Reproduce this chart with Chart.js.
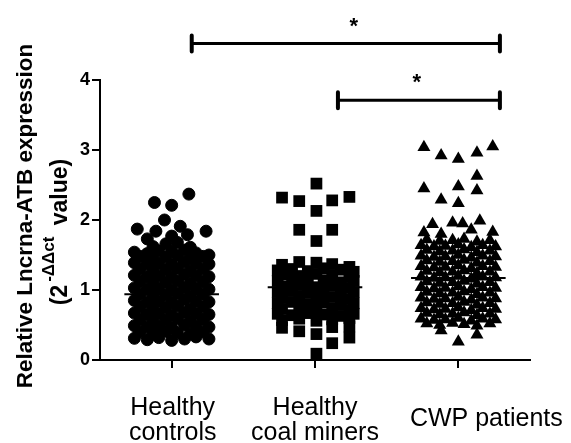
<!DOCTYPE html>
<html>
<head>
<meta charset="utf-8">
<script src="https://cdn.jsdelivr.net/npm/chart.js@4"></script>
<style>
  body { margin: 0; background: #fff; }
</style>
</head>
<body>
<canvas id="grafico" width="571" height="443"></canvas>
<script>
const grupos = [["Healthy", "controls"], ["Healthy", "coal miners"], ["CWP patients"]];
const medias = [0.94, 1.04, 1.17];
const yTicks = [0, 1, 2, 3, 4];

// Healthy controls: horizontal scatter around the group and 2^-ΔΔct value
const controlesX = [
  -0.26, -0.17, -0.09, 0.00, 0.09, 0.17, 0.26,
  -0.22, -0.13, -0.04, 0.04, 0.13, 0.22,
  -0.26, -0.17, -0.09, 0.00, 0.09, 0.17, 0.26,
  -0.22, -0.13, -0.04, 0.04, 0.13, 0.22,
  -0.26, -0.17, -0.09, 0.00, 0.09, 0.17, 0.26,
  -0.22, -0.13, -0.04, 0.04, 0.13, 0.22,
  -0.26, -0.17, -0.09, 0.00, 0.09, 0.17, 0.26,
  -0.22, -0.13, -0.04, 0.04, 0.13, 0.22,
  -0.26, -0.17, -0.09, 0.00, 0.09, 0.17, 0.26,
  -0.22, -0.13, -0.04, 0.04, 0.13, 0.22,
  -0.26, -0.17, -0.09, 0.00, 0.09, 0.17, 0.26,
  -0.22, -0.13, -0.04, 0.04, 0.13, 0.22,
  -0.26, -0.17, -0.09, 0.00, 0.09, 0.17, 0.26,
  -0.22, -0.13, -0.04, 0.04, 0.13, 0.22,
  -0.26, -0.17, -0.09, 0.00, 0.09, 0.17, 0.26,
  -0.13, -0.04, 0.04, 0.13,
  0.12, -0.12, 0.00, -0.05, -0.24, -0.11, 0.06, 0.11, 0.24, 0.00, -0.17
];
const controlesY = [
  0.31, 0.29, 0.32, 0.28, 0.30, 0.33, 0.30,
  0.40, 0.38, 0.41, 0.39, 0.37, 0.40,
  0.49, 0.47, 0.48, 0.46, 0.50, 0.48, 0.47,
  0.58, 0.56, 0.57, 0.59, 0.55, 0.58,
  0.67, 0.65, 0.66, 0.64, 0.68, 0.66, 0.65,
  0.76, 0.74, 0.75, 0.77, 0.73, 0.76,
  0.85, 0.83, 0.84, 0.82, 0.86, 0.84, 0.83,
  0.94, 0.92, 0.93, 0.95, 0.91, 0.94,
  1.03, 1.01, 1.02, 1.00, 1.04, 1.02, 1.01,
  1.12, 1.10, 1.11, 1.13, 1.09, 1.12,
  1.21, 1.19, 1.20, 1.18, 1.22, 1.20, 1.19,
  1.30, 1.28, 1.29, 1.31, 1.27, 1.30,
  1.39, 1.37, 1.38, 1.36, 1.40, 1.38, 1.37,
  1.48, 1.46, 1.47, 1.49, 1.45, 1.48,
  1.54, 1.52, 1.56, 1.55, 1.57, 1.53, 1.50,
  1.62, 1.66, 1.68, 1.61,
  2.37, 2.25, 2.21, 2.00, 1.87, 1.84, 1.91, 1.79, 1.84, 1.77, 1.73
];

// Healthy coal miners
const minerosX = [
  -0.23, -0.11, 0.01, 0.12, 0.24,
  -0.26, -0.16, -0.05, 0.06, 0.18, 0.27,
  -0.23, -0.11, 0.01, 0.12, 0.24,
  -0.26, -0.16, -0.05, 0.06, 0.18, 0.27,
  -0.23, -0.11, 0.01, 0.12, 0.24,
  -0.26, -0.16, -0.05, 0.06, 0.18, 0.27,
  -0.23, -0.11, 0.01, 0.12, 0.24,
  -0.26, -0.16, -0.05, 0.06, 0.18, 0.27,
  -0.23, -0.11, 0.01, 0.12, 0.24,
  -0.26, -0.16, -0.05, 0.06, 0.18, 0.27,
  -0.23, -0.11, 0.01, 0.12, 0.24,
  -0.23, -0.11, 0.01, 0.12, 0.24,
  0.12, 0.24, 0.01,
  0.01, -0.23, -0.11, 0.12, 0.24, 0.01, -0.11, 0.12, 0.01
];
const minerosY = [
  1.36, 1.40, 1.39, 1.37, 1.33,
  1.28, 1.30, 1.27, 1.31, 1.29, 1.26,
  1.22, 1.20, 1.23, 1.21, 1.19,
  1.13, 1.15, 1.12, 1.14, 1.11, 1.13,
  1.05, 1.07, 1.04, 1.06, 1.03,
  0.97, 0.99, 0.96, 0.98, 0.95, 0.97,
  0.89, 0.91, 0.88, 0.90, 0.87,
  0.81, 0.83, 0.80, 0.82, 0.79, 0.81,
  0.73, 0.75, 0.72, 0.74, 0.71,
  0.66, 0.64, 0.67, 0.65, 0.63, 0.66,
  0.57, 0.59, 0.56, 0.58, 0.60,
  0.46, 0.41, 0.37, 0.47, 0.48,
  0.24, 0.32, 0.09,
  2.52, 2.32, 2.27, 2.28, 2.33, 2.13, 1.86, 1.86, 1.70
];

// CWP patients
const cwpX = [
  -0.22, -0.13, -0.04, 0.04, 0.13, 0.22,
  -0.26, -0.17, -0.09, 0.00, 0.09, 0.17, 0.26,
  -0.22, -0.13, -0.04, 0.04, 0.13, 0.22,
  -0.26, -0.17, -0.09, 0.00, 0.09, 0.17, 0.26,
  -0.22, -0.13, -0.04, 0.04, 0.13, 0.22,
  -0.26, -0.17, -0.09, 0.00, 0.09, 0.17, 0.26,
  -0.22, -0.13, -0.04, 0.04, 0.13, 0.22,
  -0.26, -0.17, -0.09, 0.00, 0.09, 0.17, 0.26,
  -0.22, -0.13, -0.04, 0.04, 0.13, 0.22,
  -0.26, -0.17, -0.09, 0.00, 0.09, 0.17, 0.26,
  -0.22, -0.13, -0.04, 0.04, 0.13, 0.22,
  -0.26, -0.17, -0.09, 0.00, 0.09, 0.17, 0.26,
  -0.22, -0.13, -0.04, 0.04, 0.13, 0.22,
  -0.26, -0.17, -0.09, 0.00, 0.09, 0.17, 0.26,
  -0.22, -0.13, -0.04, 0.04, 0.13, 0.22,
  -0.26, -0.17, -0.09, 0.00, 0.09, 0.17, 0.26,
  -0.22, -0.13, -0.04, 0.04, 0.13, 0.22,
  -0.24, -0.12, 0.24, -0.18, -0.04, 0.03, 0.15, 0.09,
  0.00, 0.13, -0.12,
  -0.24, -0.12, 0.00, 0.13, 0.24, 0.13, -0.24, 0.00, 0.13, -0.12, 0.00
];
const cwpY = [
  0.52, 0.50, 0.53, 0.51, 0.49, 0.52,
  0.59, 0.57, 0.58, 0.60, 0.56, 0.59, 0.58,
  0.67, 0.65, 0.66, 0.68, 0.64, 0.66,
  0.74, 0.72, 0.73, 0.75, 0.71, 0.74, 0.73,
  0.82, 0.80, 0.81, 0.83, 0.79, 0.81,
  0.89, 0.87, 0.88, 0.90, 0.86, 0.89, 0.88,
  0.97, 0.95, 0.96, 0.98, 0.94, 0.96,
  1.04, 1.02, 1.03, 1.05, 1.01, 1.04, 1.03,
  1.12, 1.10, 1.11, 1.13, 1.09, 1.11,
  1.19, 1.17, 1.18, 1.20, 1.16, 1.19, 1.18,
  1.27, 1.25, 1.26, 1.28, 1.24, 1.26,
  1.34, 1.32, 1.33, 1.35, 1.31, 1.34, 1.33,
  1.42, 1.40, 1.41, 1.43, 1.39, 1.41,
  1.49, 1.47, 1.48, 1.50, 1.46, 1.49, 1.48,
  1.57, 1.55, 1.56, 1.58, 1.54, 1.56,
  1.64, 1.62, 1.63, 1.65, 1.61, 1.64, 1.62,
  1.72, 1.70, 1.71, 1.73, 1.69, 1.71,
  1.82, 1.80, 1.83, 1.94, 1.96, 1.95, 1.99, 1.86,
  0.26, 0.36, 0.42,
  3.04, 2.92, 2.87, 2.96, 3.05, 2.63, 2.45, 2.48, 2.42, 2.29, 2.24
];

// significance brackets
const corcheteDesde = [1.14, 2.16];
const corcheteHasta = [3.29, 3.29];
const corcheteAltura = [4.52, 3.71];
const estrellaX = [2.27, 2.71];
const estrellaTexto = ["*", "*"];

const tituloY1 = "Relative Lncrna-ATB expression";
const tituloY2 = [["(2", false], ["-\u0394\u0394ct", true], [" value)", false]];

const fuente = '"Liberation Sans", Arial, sans-serif';

function puntos(grupo, desv, valores) {
  return valores.map((v, i) => ({ x: grupo + desv[i], y: v }));
}

const textos = {
  id: "textos",
  afterDraw(chart) {
    const ctx = chart.ctx;
    const sx = chart.scales.x;
    const sy = chart.scales.y;
    ctx.save();
    ctx.fillStyle = "#000";
    ctx.strokeStyle = "#000";

    // x labels
    ctx.font = "25px " + fuente;
    ctx.textAlign = "center";
    ctx.textBaseline = "alphabetic";
    const corrimiento = [1, 0, 28];
    grupos.forEach((lineas, i) => {
      const px = sx.getPixelForValue(i + 1) + corrimiento[i];
      const base = lineas.length === 1 ? 426 : 415;
      lineas.forEach((t, j) => ctx.fillText(t, px, base + j * 25));
    });

    // brackets
    corcheteDesde.forEach((desde, i) => {
      const x1 = sx.getPixelForValue(desde);
      const x2 = sx.getPixelForValue(corcheteHasta[i]);
      const py = sy.getPixelForValue(corcheteAltura[i]);
      ctx.lineWidth = 3;
      ctx.lineCap = "butt";
      ctx.beginPath();
      ctx.moveTo(x1, py);
      ctx.lineTo(x2, py);
      ctx.stroke();
      ctx.lineWidth = 4;
      ctx.lineCap = "round";
      ctx.beginPath();
      ctx.moveTo(x1, py - 8);
      ctx.lineTo(x1, py + 8);
      ctx.moveTo(x2, py - 8);
      ctx.lineTo(x2, py + 8);
      ctx.stroke();
      ctx.font = "bold 22px " + fuente;
      ctx.textAlign = "center";
      ctx.fillText(estrellaTexto[i], sx.getPixelForValue(estrellaX[i]), py - 11);
    });

    // y title
    const cy = (sy.top + sy.bottom) / 2 - 4;
    ctx.save();
    ctx.translate(32, cy);
    ctx.rotate(-Math.PI / 2);
    ctx.font = "bold 22.5px " + fuente;
    ctx.textAlign = "center";
    ctx.fillText(tituloY1, 0, 0);
    ctx.restore();

    ctx.save();
    ctx.translate(67, cy + 16);
    ctx.rotate(-Math.PI / 2);
    ctx.textAlign = "left";
    let total = 0;
    tituloY2.forEach(([t, sup]) => {
      ctx.font = "bold " + (sup ? 17 : 23) + "px " + fuente;
      total += ctx.measureText(t).width + (sup ? 8 : 0);
    });
    let px = -total / 2;
    tituloY2.forEach(([t, sup]) => {
      ctx.font = "bold " + (sup ? 17 : 23) + "px " + fuente;
      if (sup) px += 3;
      ctx.fillText(t, px, sup ? -13 : 0);
      px += ctx.measureText(t).width + (sup ? 5 : 0);
    });
    ctx.restore();

    ctx.restore();
  }
};

function grafico() {
  const ctx = document.getElementById("grafico");
  const lineas = medias.map((m, i) => ({
    type: "line",
    data: [{ x: i + 1 - 0.33, y: m }, { x: i + 1 + 0.33, y: m }],
    borderColor: "#000",
    borderWidth: 2,
    pointRadius: 0,
    showLine: true,
    order: 0
  }));

  new Chart(ctx, {
    type: "scatter",
    data: {
      datasets: [
        {
          data: puntos(1, controlesX, controlesY),
          pointStyle: "circle",
          pointRadius: 6,
          backgroundColor: "#000",
          borderColor: "#000",
          borderWidth: 1,
          order: 1
        },
        {
          data: puntos(2, minerosX, minerosY),
          pointStyle: "rect",
          pointRadius: 8.3,
          backgroundColor: "#000",
          borderColor: "#000",
          borderWidth: 0,
          order: 1
        },
        {
          data: puntos(3, cwpX, cwpY),
          pointStyle: "triangle",
          pointRadius: 7.5,
          backgroundColor: "#000",
          borderColor: "#000",
          borderWidth: 0,
          order: 1
        },
        ...lineas
      ]
    },
    options: {
      responsive: false,
      animation: false,
      devicePixelRatio: 1,
      layout: { padding: { left: 0, right: 41, top: 80, bottom: 0 } },
      plugins: { legend: { display: false }, tooltip: { enabled: false } },
      scales: {
        x: {
          type: "linear",
          min: 0.5,
          max: 3.5,
          afterBuildTicks: (s) => { s.ticks = [1, 2, 3].map((v) => ({ value: v })); },
          afterFit: (s) => { s.height = 83; },
          ticks: { display: false },
          grid: { drawOnChartArea: false, tickLength: 8, color: "#000", lineWidth: 2 },
          border: { color: "#000", width: 2 }
        },
        y: {
          min: 0,
          max: 4,
          afterBuildTicks: (s) => { s.ticks = yTicks.map((v) => ({ value: v })); },
          afterFit: (s) => { s.width = 100; },
          ticks: { color: "#000", padding: 2, font: { family: fuente, size: 18, weight: "bold" } },
          grid: { drawOnChartArea: false, tickLength: 8, color: "#000", lineWidth: 2 },
          border: { color: "#000", width: 2 }
        }
      }
    },
    plugins: [textos]
  });
}

grafico();
</script>
</body>
</html>
